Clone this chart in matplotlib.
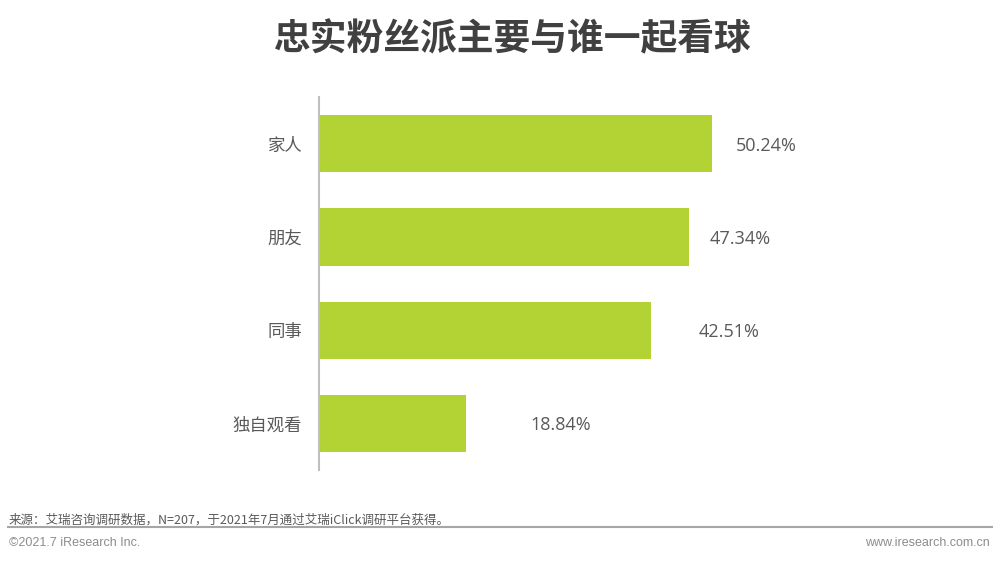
import matplotlib
matplotlib.use("Agg")
import matplotlib.pyplot as plt

plt.rcParams['font.family'] = ['Noto Sans CJK SC', 'DejaVu Sans']

categories = ["家人", "朋友", "同事", "独自观看"]
values = [50.24, 47.34, 42.51, 18.84]
value_labels = ["50.24%", "47.34%", "42.51%", "18.84%"]
label_offsets = [7.0, 6.6, 9.9, 12.1]

title = "忠实粉丝派主要与谁一起看球"
source = "来源：艾瑞咨询调研数据，N=207，于2021年7月通过艾瑞iClick调研平台获得。"
copyright_text = "©2021.7 iResearch Inc."
site = "www.iresearch.com.cn"

bar_color = "#B3D335"
text_color = "#595959"

fig = plt.figure(figsize=(10, 5.61), dpi=100)
ax = fig.add_axes([0.319, 0.162, 0.469, 0.665])

y = range(len(categories))
ax.barh(list(y), values, height=0.615, color=bar_color)
ax.set_xlim(0, 60)
ax.set_ylim(3.5, -0.5)
ax.set_yticks(list(y))
ax.set_yticklabels(categories, fontsize=12.5, color=text_color)
ax.tick_params(axis='y', length=0, pad=12)
ax.set_xticks([])
for s in ("top", "right", "bottom"):
    ax.spines[s].set_visible(False)
ax.spines["left"].set_color("#BFBFBF")
ax.spines["left"].set_linewidth(1.5)

for i, (v, lab, off) in enumerate(zip(values, value_labels, label_offsets)):
    ax.text(v + off, i, lab, ha="center", va="center_baseline", fontsize=13,
            color=text_color, family=["Open Sans", "DejaVu Sans"])

fig.text(0.513, 0.929, title, ha="center", va="center", fontsize=26.5,
         fontweight="bold", color="#404040")

fig.text(0.009, 0.073, source, ha="left", va="center", fontsize=9,
         color="#595959", fontstretch="condensed")
fig.add_artist(plt.Line2D([0.008, 0.992], [0.06, 0.06], color="#A6A6A6", linewidth=1.5))
fig.text(0.009, 0.032, copyright_text, ha="left", va="center", fontsize=9,
         color="#8C8C8C", family=["Liberation Sans", "DejaVu Sans"])
fig.text(0.99, 0.032, site, ha="right", va="center", fontsize=9,
         color="#8C8C8C", family=["Liberation Sans", "DejaVu Sans"])

fig.savefig("out.png", dpi=100)
